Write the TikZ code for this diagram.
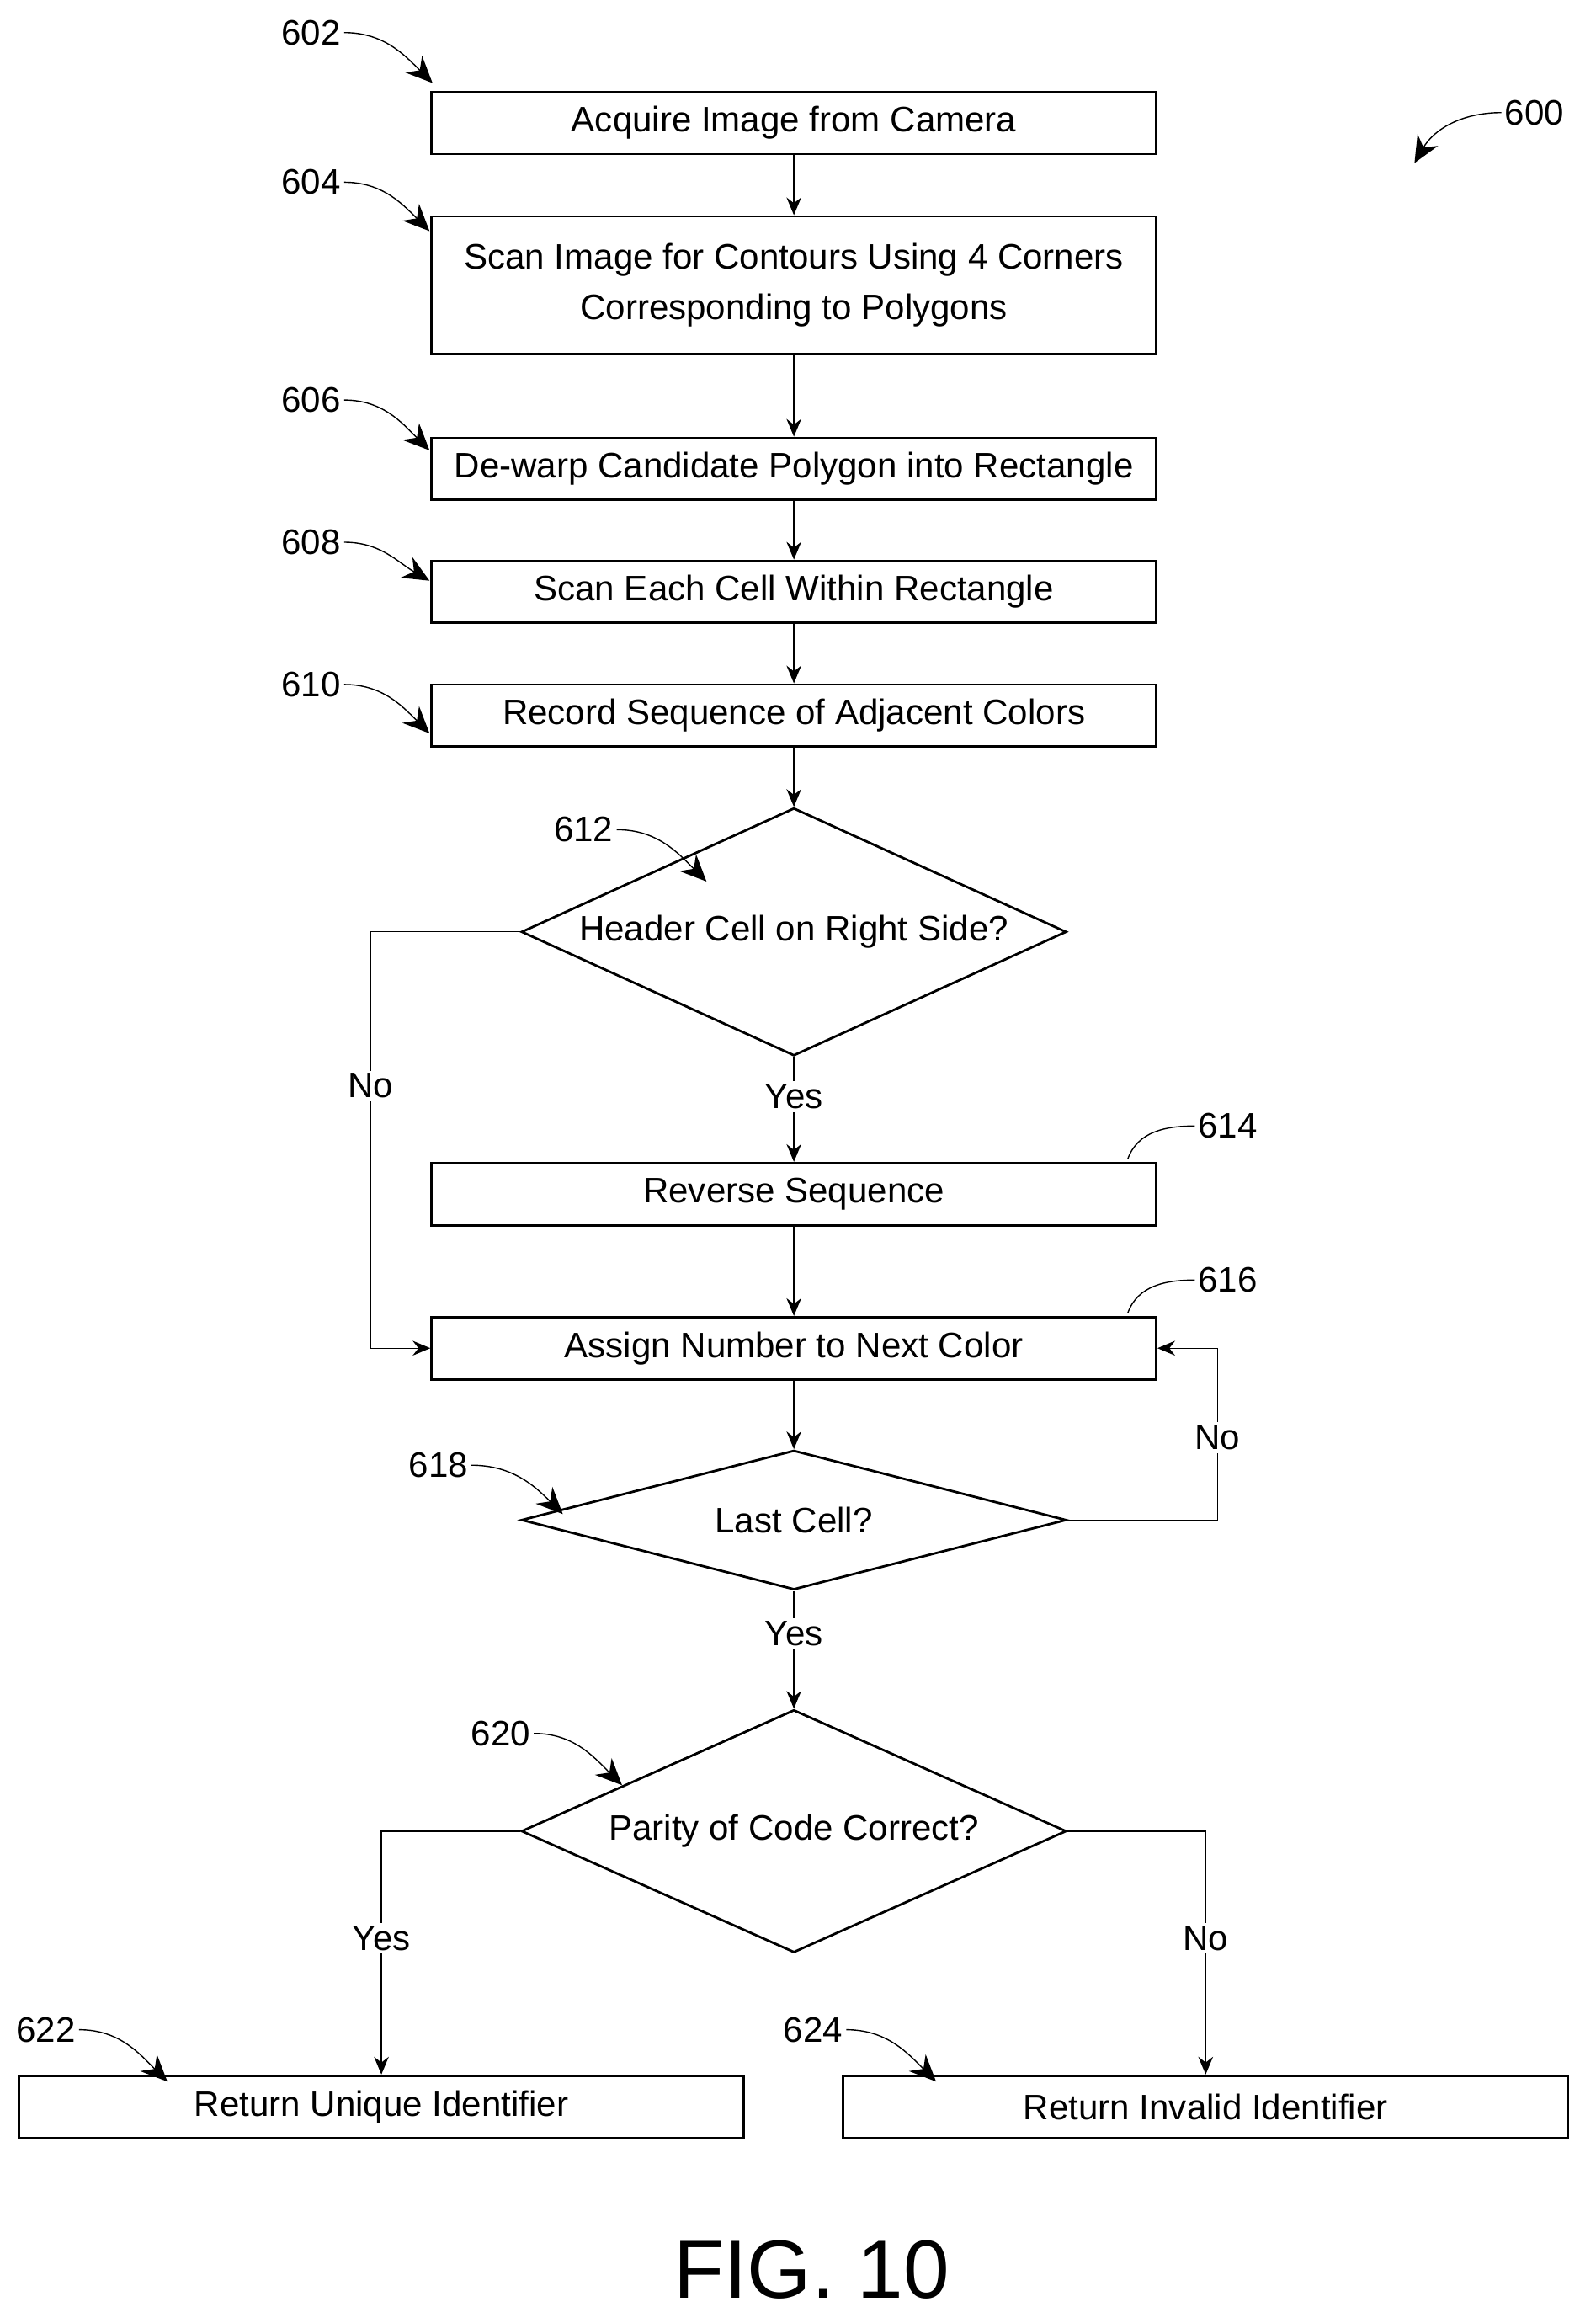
\documentclass[tikz,border=0pt]{standalone}
\usepackage{fontspec}
\setmainfont{Liberation Sans}
\usetikzlibrary{shapes.geometric,arrows.meta}
\tikzset{
	box/.style={draw, line width=.8pt, minimum width=8.63cm, minimum height=.74cm, inner sep=0pt, font=\fontsize{12}{15}\selectfont, align=center},
	dia/.style={draw, line width=.8pt, shape=diamond, minimum width=6.49cm, inner sep=0pt},
	lbl/.style={font=\fontsize{12}{15}\selectfont, inner sep=1pt},
	flow/.style={-{Stealth[length=6pt,width=5pt]}, line width=.4pt},
	tag/.style={-{Stealth[length=9pt,width=8pt]}, line width=.4pt},
	lead/.style={line width=.4pt},
}
\begin{document}
\begin{tikzpicture}[x=0.01764cm, y=-0.01764cm]
	\useasboundingbox (0,0) rectangle (1077,1568);
	% boxes
	\node[box] (b602) at (536,83)    {Acquire Image from Camera};
	\node[box, minimum height=1.64cm] (b604) at (536,192.5) {Scan Image for Contours Using 4 Corners\\[2pt]Corresponding to Polygons};
	\node[box] (b606) at (536,316.5) {De-warp Candidate Polygon into Rectangle};
	\node[box] (b608) at (536,399.5) {Scan Each Cell Within Rectangle};
	\node[box] (b610) at (536,483)   {Record Sequence of Adjacent Colors};
	\node[dia, minimum height=2.95cm, label={[lbl]center:Header Cell on Right Side?}] (d612) at (536,629) {};
	\node[box] (b614) at (536,806)   {Reverse Sequence};
	\node[box] (b616) at (536,910)   {Assign Number to Next Color};
	\node[dia, minimum height=1.66cm, label={[lbl]center:Last Cell?}] (d618) at (536,1026) {};
	\node[dia, minimum height=2.89cm, label={[lbl]center:Parity of Code Correct?}] (d620) at (536,1236) {};
	\node[box] (b622) at (257.5,1422) {Return Unique Identifier};
	\node[box] (b624) at (814,1422)   {Return Invalid Identifier};
	% flow
	\draw[flow] (b602) -- (b604);
	\draw[flow] (b604) -- (b606);
	\draw[flow] (b606) -- (b608);
	\draw[flow] (b608) -- (b610);
	\draw[flow] (b610) -- (d612);
	\draw[flow] (d612) -- node[lbl, fill=white, pos=.38]{Yes} (b614);
	\draw[flow] (b614) -- (b616);
	\draw[flow] (d612.west) -| node[lbl, fill=white, pos=.685]{No} (250,910) -- (b616.west);
	\draw[flow] (b616) -- (d618);
	\draw[flow] (d618.east) -| node[lbl, fill=white, pos=.74]{No} (822,910) -- (b616.east);
	\draw[flow] (d618) -- node[lbl, fill=white, pos=.36]{Yes} (d620);
	\draw[flow] (d620.west) -| node[lbl, fill=white, pos=.72]{Yes} (b622.north);
	\draw[flow] (d620.east) -| node[lbl, fill=white, pos=.72]{No} (b624.north);
	% reference numerals
	\node[lbl] (n600) at (1036,76) {600};
	\node[lbl] (n602) at (210,22) {602};
	\node[lbl] (n604) at (210,123) {604};
	\node[lbl] (n606) at (210,270) {606};
	\node[lbl] (n608) at (210,366) {608};
	\node[lbl] (n610) at (210,462) {610};
	\node[lbl] (n612) at (394,560) {612};
	\node[lbl] (n614) at (829,760) {614};
	\node[lbl] (n616) at (829,864) {616};
	\node[lbl] (n618) at (296,989) {618};
	\node[lbl] (n620) at (338,1170) {620};
	\node[lbl] (n622) at (31,1370) {622};
	\node[lbl] (n624) at (549,1370) {624};
	\draw[tag] (n600.west) to[out=180,in=60] (955,110);
	\draw[tag] (n602.east) to[out=0,in=135] (292,56);
	\draw[tag] (n604.east) to[out=0,in=135] (290,156);
	\draw[tag] (n606.east) to[out=0,in=135] (290,304);
	\draw[tag] (n608.east) to[out=0,in=150] (290,392);
	\draw[tag] (n610.east) to[out=0,in=135] (290,495);
	\draw[tag] (n612.east) to[out=0,in=135] (477,595);
	\draw[tag] (n618.east) to[out=0,in=135] (380,1022);
	\draw[tag] (n620.east) to[out=0,in=135] (420,1205);
	\draw[tag] (n622.east) to[out=0,in=135] (113,1405);
	\draw[tag] (n624.east) to[out=0,in=135] (632,1405);
	\draw[lead] (b614.north east) ++(-20,-2) to[out=70,in=180] (n614.west);
	\draw[lead] (b616.north east) ++(-20,-2) to[out=70,in=180] (n616.west);
	% figure caption
	\node[font=\fontsize{28}{32}\selectfont] (fig) at (548,1532) {FIG. 10};
\end{tikzpicture}
\end{document}
